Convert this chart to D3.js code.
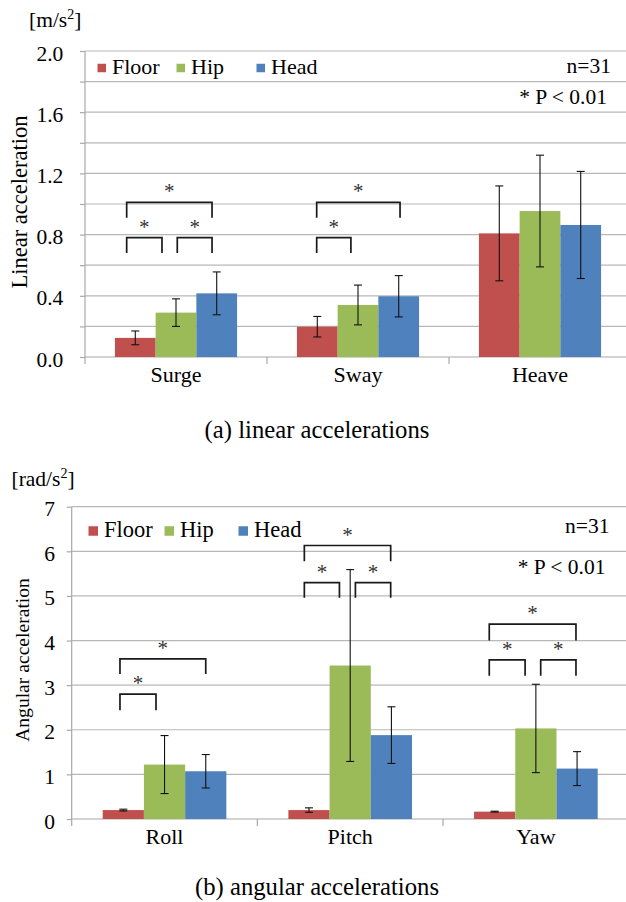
<!DOCTYPE html>
<html>
<head>
<meta charset="utf-8">
<script src="https://cdn.jsdelivr.net/npm/d3@7"></script>
<style>
  html, body { margin: 0; padding: 0; background: #fff; font-family: 'Liberation Serif', serif; }
  svg { display: block; }
</style>
</head>
<body>
<div id="chart"></div>
<script>
// ---------- DATA ----------
const seriesNames = ["Floor", "Hip", "Head"];
const seriesColors = ["#c0504d", "#9bbb59", "#4f81bd"];

// (a) linear accelerations [m/s^2]
const linearCategories = ["Surge", "Sway", "Heave"];
const linearFloor   = [0.125, 0.198, 0.808];
const linearFloorSD = [0.045, 0.067, 0.31];
const linearHip     = [0.29, 0.34, 0.954];
const linearHipSD   = [0.09, 0.13, 0.365];
const linearHead    = [0.416, 0.397, 0.863];
const linearHeadSD  = [0.14, 0.135, 0.35];
const linearTickLabels = [0.0, 0.4, 0.8, 1.2, 1.6, 2.0];
// significance brackets: [category index, from (band fraction), to (band fraction), top value, leg end value]
const linearBrackets = [
  [0, 0.229, 0.423, 0.78, 0.68],
  [0, 0.507, 0.698, 0.78, 0.68],
  [0, 0.229, 0.698, 1.01, 0.91],
  [1, 0.273, 0.461, 0.78, 0.68],
  [1, 0.273, 0.731, 1.01, 0.91]
];

// (b) angular accelerations [rad/s^2]
const angularCategories = ["Roll", "Pitch", "Yaw"];
const angularFloor   = [0.20, 0.20, 0.165];
const angularFloorSD = [0.02, 0.05, 0.01];
const angularHip     = [1.22, 3.44, 2.03];
const angularHipSD   = [0.65, 2.15, 0.99];
const angularHead    = [1.07, 1.88, 1.13];
const angularHeadSD  = [0.375, 0.635, 0.38];
const angularTickLabels = [0, 1, 2, 3, 4, 5, 6, 7];
const angularBrackets = [
  [0, 0.260, 0.454, 2.80, 2.44],
  [0, 0.260, 0.722, 3.59, 3.25],
  [1, 0.253, 0.442, 5.30, 4.96],
  [1, 0.528, 0.718, 5.30, 4.96],
  [1, 0.253, 0.718, 6.13, 5.78],
  [2, 0.249, 0.442, 3.565, 3.21],
  [2, 0.526, 0.716, 3.565, 3.21],
  [2, 0.249, 0.716, 4.37, 4.00]
];

// ---------- DRAW ----------
const FONT = "'Liberation Serif', 'Times New Roman', serif";
const W = 626, H = 902;
const svg = d3.select("#chart").append("svg").attr("width", W).attr("height", H)
  .style("font-family", FONT);

function txt(sel) {
  return sel.append("text").style("font-family", FONT).attr("fill", "#000");
}

function drawPanel(o) {
  const g = svg.append("g");
  const x = d3.scaleBand().domain(o.categories).range([o.left, o.right]).paddingInner(0).paddingOuter(0);
  const y = d3.scaleLinear().domain([0, o.yMax]).range([o.bottom, o.top]);
  const gridVals = d3.range(0, o.yMax + o.gridStep / 2, o.gridStep);

  // gridlines
  g.append("g").selectAll("line").data(gridVals.slice(1)).join("line")
    .attr("x1", o.left).attr("x2", o.right)
    .attr("y1", d => y(d)).attr("y2", d => y(d))
    .attr("stroke", "#b8b8b8").attr("stroke-width", 1.2);

  // y axis: tick marks + labels
  const yAxis = d3.axisLeft(y).tickValues(gridVals).tickSize(5).tickFormat("");
  const ya = g.append("g").attr("transform", `translate(${o.left},0)`).call(yAxis);
  ya.select(".domain").remove();
  ya.selectAll("line").attr("stroke", "#a8a8a8").attr("stroke-width", 1.2);
  const yLab = d3.axisLeft(y).tickValues(o.tickLabels).tickSize(0).tickPadding(o.labelPad).tickFormat(o.fmt);
  const yl = g.append("g").attr("transform", `translate(${o.left},0)`).call(yLab)
    .attr("font-family", null).attr("font-size", null);
  yl.select(".domain").remove();
  yl.selectAll("text").style("font-family", FONT).style("font-size", o.tickFont + "px")
    .attr("fill", "#000").attr("dy", o.tickDy);
  g.append("line").attr("x1", o.left).attr("x2", o.left).attr("y1", o.top).attr("y2", o.bottom + 7)
    .attr("stroke", "#a8a8a8").attr("stroke-width", 1.2);

  // x axis
  g.append("line").attr("x1", o.left).attr("x2", o.right).attr("y1", o.bottom).attr("y2", o.bottom)
    .attr("stroke", "#a8a8a8").attr("stroke-width", 1.2);
  g.append("g").selectAll("line").data(o.categories.slice(1)).join("line")
    .attr("x1", d => x(d)).attr("x2", d => x(d)).attr("y1", o.bottom).attr("y2", o.bottom + 7)
    .attr("stroke", "#a8a8a8").attr("stroke-width", 1.2);
  g.append("g").selectAll("text").data(o.categories).join("text")
    .style("font-family", FONT).attr("fill", "#000")
    .attr("x", d => x(d) + x.bandwidth() / 2).attr("y", o.bottom + o.catDy)
    .attr("text-anchor", "middle").style("font-size", o.catFont + "px").text(d => d);

  // bars
  const barW = x.bandwidth() * o.barFrac;
  const xs = d3.scaleBand().domain(seriesNames).range([0, barW * 3]);
  const offset = (x.bandwidth() - barW * 3) / 2;
  seriesNames.forEach((s, si) => {
    const vals = o.means[si], sds = o.sds[si];
    const rows = o.categories.map((c, i) => ({ c, v: vals[i], sd: sds[i] }));
    g.append("g").selectAll("rect").data(rows).join("rect")
      .attr("x", d => x(d.c) + offset + xs(s))
      .attr("y", d => y(d.v))
      .attr("width", xs.bandwidth())
      .attr("height", d => y(0) - y(d.v))
      .attr("fill", seriesColors[si]);
    // error bars
    const eb = g.append("g").attr("stroke", "#111").attr("stroke-width", 1.1);
    rows.forEach(d => {
      const cx = x(d.c) + offset + xs(s) + xs.bandwidth() / 2;
      eb.append("line").attr("x1", cx).attr("x2", cx).attr("y1", y(d.v - d.sd)).attr("y2", y(d.v + d.sd));
      eb.append("line").attr("x1", cx - 4).attr("x2", cx + 4).attr("y1", y(d.v - d.sd)).attr("y2", y(d.v - d.sd));
      eb.append("line").attr("x1", cx - 4).attr("x2", cx + 4).attr("y1", y(d.v + d.sd)).attr("y2", y(d.v + d.sd));
    });
  });

  // significance brackets
  const br = g.append("g");
  o.brackets.forEach(b => {
    const c = o.categories[b[0]];
    const x0 = x(c) + b[1] * x.bandwidth(), x1 = x(c) + b[2] * x.bandwidth();
    br.append("path")
      .attr("d", `M${x0},${y(b[4])}V${y(b[3])}H${x1}V${y(b[4])}`)
      .attr("fill", "none").attr("stroke", "#1a1a1a").attr("stroke-width", 1.7);
    txt(br).attr("x", (x0 + x1) / 2).attr("y", y(b[3]) - o.starRise)
      .attr("text-anchor", "middle").style("font-size", o.starFont + "px").attr("fill", "#333").text("*");
  });

  // legend
  const lg = g.append("g");
  seriesNames.forEach((s, i) => {
    lg.append("rect").attr("x", o.legX[i]).attr("y", o.legY - o.legSq / 2 - 6)
      .attr("width", o.legSq).attr("height", o.legSq).attr("fill", seriesColors[i]);
    txt(lg).attr("x", o.legX[i] + o.legSq + 6).attr("y", o.legY)
      .style("font-size", o.legFont + "px").text(s);
  });

  // notes
  txt(g).attr("x", o.noteX).attr("y", o.nY).attr("text-anchor", "end")
    .style("font-size", o.noteFont + "px").text("n=31");
  txt(g).attr("x", o.noteX - 4).attr("y", o.pY).attr("text-anchor", "end")
    .style("font-size", o.noteFont + "px").text("* P < 0.01");

  // unit label
  const u = txt(g).attr("x", o.unitX).attr("y", o.unitY).style("font-size", o.unitFont + "px");
  u.append("tspan").text(o.unitText);
  u.append("tspan").style("font-size", (o.unitFont * 0.65) + "px").attr("dy", -8).text("2");
  u.append("tspan").attr("dy", 8).text("]");

  // y title
  txt(g).attr("transform", `translate(${o.titleX},${o.titleY}) rotate(-90)`)
    .attr("text-anchor", "middle").style("font-size", o.titleFont + "px").text(o.yTitle);

  // caption
  txt(g).attr("x", o.capX).attr("y", o.capY).attr("text-anchor", "middle")
    .style("font-size", o.capFont + "px").text(o.caption);
}

drawPanel({
  categories: linearCategories,
  means: [linearFloor, linearHip, linearHead],
  sds: [linearFloorSD, linearHipSD, linearHeadSD],
  yMax: 2.0, gridStep: 0.2, tickLabels: linearTickLabels, fmt: d3.format(".1f"),
  left: 85, right: 631, top: 51, bottom: 357,
  barFrac: 0.2237,
  labelPad: 21.7, tickFont: 21.5, tickDy: 9,
  catDy: 25, catFont: 22,
  brackets: linearBrackets, starRise: 4, starFont: 21,
  legX: [97.5, 176.5, 256.5], legY: 74, legSq: 8.5, legFont: 22,
  noteX: 611, nY: 73, pY: 104, noteFont: 21.5,
  unitX: 29, unitY: 27, unitFont: 21.5, unitText: "[m/s",
  titleX: 26.5, titleY: 202, titleFont: 22.5, yTitle: "Linear acceleration",
  capX: 317, capY: 438, capFont: 24.7, caption: "(a) linear accelerations"
});

drawPanel({
  categories: angularCategories,
  means: [angularFloor, angularHip, angularHead],
  sds: [angularFloorSD, angularHipSD, angularHeadSD],
  yMax: 7, gridStep: 1, tickLabels: angularTickLabels, fmt: d3.format("d"),
  left: 71.7, right: 628.7, top: 506.7, bottom: 819,
  barFrac: 0.222,
  labelPad: 16.7, tickFont: 21.5, tickDy: 9,
  catDy: 24.5, catFont: 22,
  brackets: angularBrackets, starRise: 4, starFont: 21,
  legX: [88.5, 164.5, 238.5], legY: 537, legSq: 9.5, legFont: 22.5,
  noteX: 609.5, nY: 532.5, pY: 574, noteFont: 21.5,
  unitX: 11.5, unitY: 485.5, unitFont: 21.5, unitText: "[rad/s",
  titleX: 29, titleY: 660, titleFont: 19.6, yTitle: "Angular acceleration",
  capX: 317, capY: 894.5, capFont: 24.7, caption: "(b) angular accelerations"
});
</script>
</body>
</html>
